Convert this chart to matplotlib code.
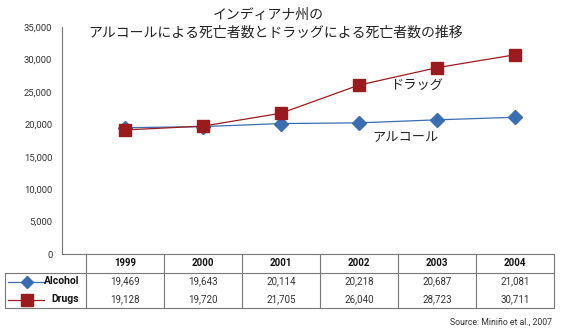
import matplotlib
matplotlib.use("Agg")
import matplotlib.pyplot as plt
from matplotlib.transforms import blended_transform_factory

years = ["1999", "2000", "2001", "2002", "2003", "2004"]
alcohol = [19469, 19643, 20114, 20218, 20687, 21081]
drugs = [19128, 19720, 21705, 26040, 28723, 30711]
alcohol_labels = ["19,469", "19,643", "20,114", "20,218", "20,687", "21,081"]
drugs_labels = ["19,128", "19,720", "21,705", "26,040", "28,723", "30,711"]
yticks = [0, 5000, 10000, 15000, 20000, 25000, 30000, 35000]
title1 = "インディアナ州の"
title2 = "アルコールによる死亡者数とドラッグによる死亡者数の推移"
source = "Source: Miniño et al., 2007"

narrow = ["Roboto", "DejaVu Sans"]
jp = ["Noto Sans CJK JP", "DejaVu Sans"]

W, H = 562, 332
fig = plt.figure(figsize=(W / 100, H / 100), dpi=100)
def fx(px): return px / W
def fy(py): return 1 - py / H

ax_l, ax_r, ax_t, ax_b = 62, 553, 27, 254
ax = fig.add_axes([fx(ax_l), fy(ax_b), fx(ax_r - ax_l), (ax_b - ax_t) / H])

red = "#9a1b1e"
blue = "#3b6db3"
x = list(range(len(years)))
ax.plot(x, alcohol, color=blue, lw=0.9, marker="D", ms=7, mfc=blue, mec=blue, zorder=3)
ax.plot(x, drugs, color=red, lw=0.9, marker="s", ms=9, mfc=red, mec=red, zorder=4)

ax.set_xlim(-0.81, 5.49)
ax.set_ylim(0, 35000)
ax.set_yticks(yticks)
ax.set_yticklabels([f"{v:,}" for v in yticks], fontfamily=narrow, fontsize=6.8, color="#333333")
ax.tick_params(axis="y", length=0, pad=7)
ax.set_xticks([])
for s in ["top", "right"]:
    ax.spines[s].set_visible(False)
for s in ["left", "bottom"]:
    ax.spines[s].set_color("#777777")
    ax.spines[s].set_linewidth(0.8)

ax.text(3.4, 26000, "ドラッグ", fontfamily=jp, fontsize=9.5, color="#222222", va="center")
ax.text(3.17, 18000, "アルコール", fontfamily=jp, fontsize=9.5, color="#222222", va="center")

fig.text(fx(268), fy(15), title1, fontfamily=jp, fontsize=10, color="#222222",
         ha="center", va="center")
fig.text(fx(276), fy(33), title2, fontfamily=jp, fontsize=10, color="#222222",
         ha="center", va="center")

# table
trans = blended_transform_factory(ax.transData, fig.transFigure)
lc = "#777777"
lw = 0.8
top, hdr_b, bot = 254, 273, 308
row_mid = [281.5, 299.5]
n = len(years)
ax.plot([-0.5, n - 0.5], [fy(hdr_b)] * 2, transform=trans, color=lc, lw=lw, clip_on=False)
ax.plot([-0.5, n - 0.5], [fy(bot)] * 2, transform=trans, color=lc, lw=lw, clip_on=False)
for i in range(n + 1):
    ax.plot([i - 0.5, i - 0.5], [fy(top), fy(bot)], transform=trans, color=lc, lw=lw, clip_on=False)
fig.add_artist(plt.Line2D([fx(5), fx(5)], [fy(hdr_b), fy(bot)], color=lc, lw=lw))
fig.add_artist(plt.Line2D([fx(5), fx(86)], [fy(hdr_b), fy(hdr_b)], color=lc, lw=lw))
fig.add_artist(plt.Line2D([fx(5), fx(86)], [fy(bot), fy(bot)], color=lc, lw=lw))

for i, yv in enumerate(years):
    ax.text(i, fy((top + hdr_b) / 2), yv, transform=trans, ha="center", va="center",
            fontfamily=narrow, fontweight="bold", fontsize=7, color="#111111")
    ax.text(i, fy(row_mid[0]), alcohol_labels[i], transform=trans, ha="center", va="center",
            fontfamily=narrow, fontsize=7, color="#333333")
    ax.text(i, fy(row_mid[1]), drugs_labels[i], transform=trans, ha="center", va="center",
            fontfamily=narrow, fontsize=7, color="#333333")

# legend keys
fig.add_artist(plt.Line2D([fx(8), fx(27), fx(44)], [fy(row_mid[0])] * 3, color=blue, lw=0.9,
                          marker="D", markevery=[1], ms=6, mfc=blue, mec=blue))
fig.add_artist(plt.Line2D([fx(8), fx(27), fx(44)], [fy(row_mid[1])] * 3, color=red, lw=0.9,
                          marker="s", markevery=[1], ms=8, mfc=red, mec=red))
fig.text(fx(79), fy(row_mid[0]), "Alcohol", ha="right", va="center", fontfamily=narrow,
         fontweight="bold", fontsize=7.5, color="#111111")
fig.text(fx(79), fy(row_mid[1]), "Drugs", ha="right", va="center", fontfamily=narrow,
         fontweight="bold", fontsize=7.5, color="#111111")

fig.text(fx(552), fy(322), source, ha="right", va="center", fontfamily=narrow,
         fontsize=6.3, color="#333333")

fig.savefig("out.png", dpi=100)
